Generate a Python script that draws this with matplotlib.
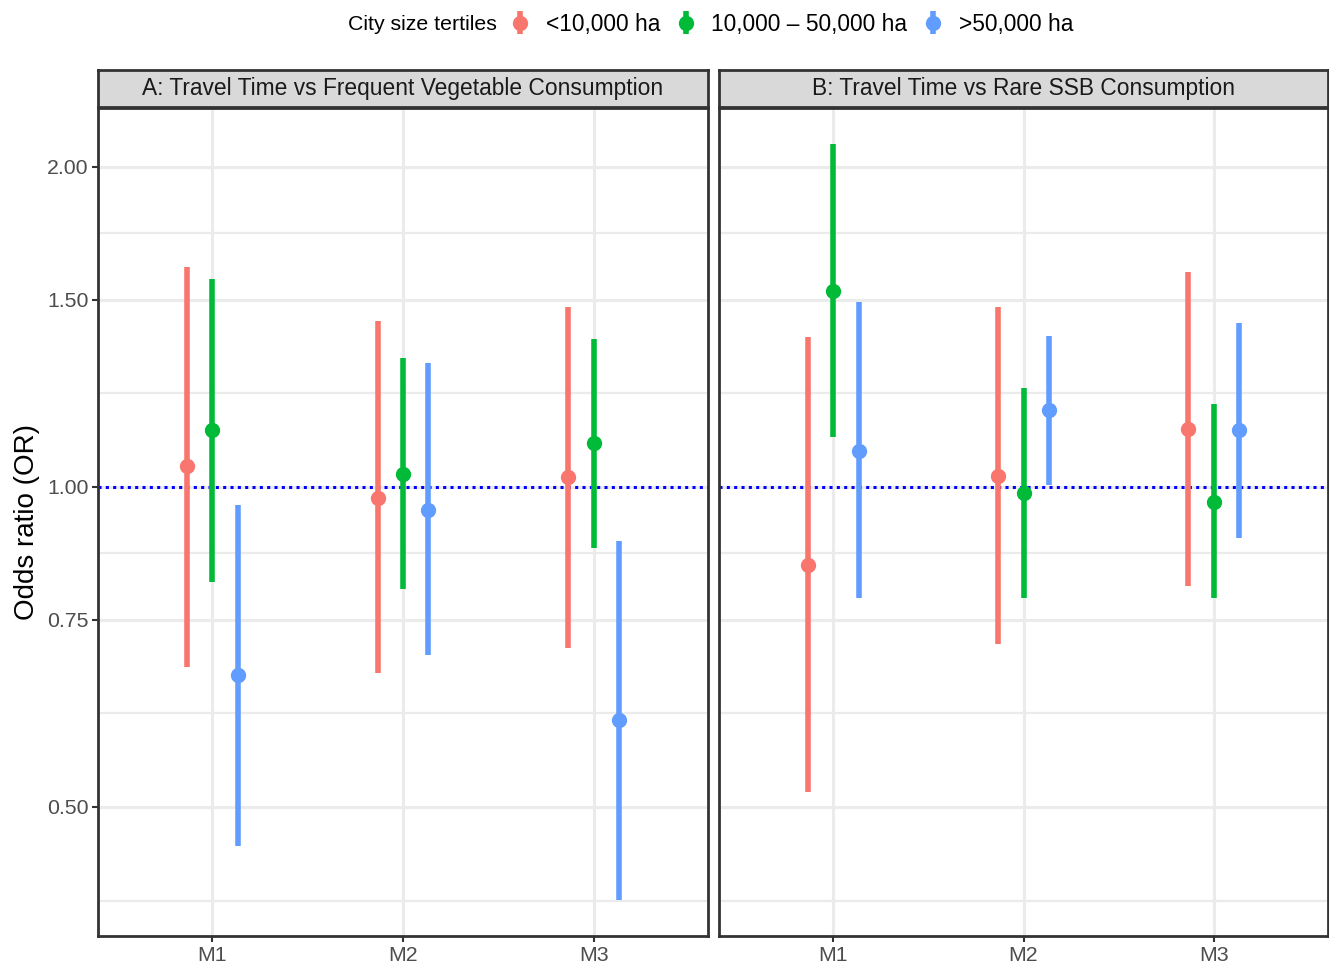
import numpy as np
import matplotlib
matplotlib.use("Agg")
import matplotlib.pyplot as plt
from matplotlib.ticker import FixedLocator, NullFormatter, FixedFormatter

plt.rcParams['font.family'] = ['Liberation Sans', 'DejaVu Sans']

# Data (odds ratios with 95% CI), rows = city size tertile, columns = model
models = ['M1', 'M2', 'M3']
groups = ['<10,000 ha', '10,000 – 50,000 ha', '>50,000 ha']
colors = ['#F8766D', '#00BA38', '#619CFF']

titles = ['A: Travel Time vs Frequent Vegetable Consumption',
          'B: Travel Time vs Rare SSB Consumption']

veg_or = [[1.047, 0.975, 1.021], [1.131, 1.029, 1.099], [0.665, 0.951, 0.603]]
veg_lo = [[0.677, 0.668, 0.706], [0.814, 0.801, 0.875], [0.459, 0.694, 0.409]]
veg_hi = [[1.611, 1.432, 1.475], [1.568, 1.321, 1.377], [0.961, 1.306, 0.890]]

ssb_or = [[0.845, 1.024, 1.133], [1.529, 0.986, 0.968], [1.081, 1.181, 1.132]]
ssb_lo = [[0.516, 0.711, 0.807], [1.113, 0.786, 0.786], [0.786, 1.004, 0.895]]
ssb_hi = [[1.382, 1.475, 1.593], [2.099, 1.238, 1.195], [1.493, 1.387, 1.425]]

y_breaks = [0.50, 0.75, 1.00, 1.50, 2.00]
y_minor = [0.408, 0.612, 0.866, 1.225, 1.732]

W, H = 1329, 966
fig = plt.figure(figsize=(W / 100, H / 100), dpi=100)

def px(x0, y0, x1, y1):
    # pixel box (top-left origin) -> figure fraction
    return [x0 / W, 1 - y1 / H, (x1 - x0) / W, (y1 - y0) / H]

panels = [(98, 708), (719, 1328)]
data = [(veg_or, veg_lo, veg_hi), (ssb_or, ssb_lo, ssb_hi)]
dodge = 0.4 / 3
handles = []

for i, ((x0, x1), (est, lo, hi)) in enumerate(zip(panels, data)):
    ax = fig.add_axes(px(x0, 108, x1, 936))
    ax.set_yscale('log')
    ax.set_xlim(0.4, 3.6)
    ax.set_ylim(0.378, 2.271)

    xs = np.arange(1, len(models) + 1)
    for g in range(len(groups)):
        e = np.array(est[g])
        l = np.array(lo[g])
        h = np.array(hi[g])
        eb = ax.errorbar(xs + (g - 1) * dodge, e, yerr=[e - l, h - e], fmt='o',
                         color=colors[g], ecolor=colors[g], elinewidth=4,
                         markersize=10, capsize=0, label=groups[g], zorder=3)
        if i == 0:
            handles.append(eb)

    ax.axhline(1.0, color='#0000FF', linestyle=(0, (1, 1.4)), linewidth=2.2, zorder=2)

    ax.yaxis.set_major_locator(FixedLocator(y_breaks))
    ax.yaxis.set_minor_locator(FixedLocator(y_minor))
    ax.yaxis.set_minor_formatter(NullFormatter())
    ax.yaxis.set_major_formatter(FixedFormatter(['%.2f' % v for v in y_breaks]))
    ax.set_xticks(xs)
    ax.set_xticklabels(models)

    ax.grid(True, which='major', color='#EBEBEB', linewidth=2.2, zorder=0)
    ax.grid(True, which='minor', axis='y', color='#EBEBEB', linewidth=1.6, zorder=0)
    ax.set_axisbelow(True)
    for s in ax.spines.values():
        s.set_color('#333333')
        s.set_linewidth(2.0)

    ax.tick_params(axis='both', which='major', length=4, width=1.5, color='#333333',
                   labelsize=15.3, labelcolor='#4D4D4D', pad=3)
    ax.tick_params(axis='y', which='minor', length=0)
    if i == 1:
        ax.tick_params(axis='y', which='major', left=False, labelleft=False)
    else:
        ax.set_ylabel('Odds ratio (OR)', fontsize=20, color='black', labelpad=5)

    # facet strip
    sx = fig.add_axes(px(x0, 70, x1, 107))
    sx.set_facecolor('#D9D9D9')
    sx.set_xticks([])
    sx.set_yticks([])
    for s in sx.spines.values():
        s.set_color('#333333')
        s.set_linewidth(2.0)
    sx.text(0.5, 0.5, titles[i], ha='center', va='center', fontsize=16.4,
            color='#1A1A1A', transform=sx.transAxes)

# legend on top
fig.text(348 / W, 1 - 25 / H, 'City size tertiles', ha='left', va='center', fontsize=15.3)
fig.legend(handles=handles, labels=groups, loc='center left',
           bbox_to_anchor=(510 / W, 1 - 24 / H), ncol=3, frameon=False,
           fontsize=16.4, handlelength=0.92, handletextpad=0.65, columnspacing=0.68,
           borderaxespad=0, borderpad=0)

fig.savefig('out.png', dpi=100)
